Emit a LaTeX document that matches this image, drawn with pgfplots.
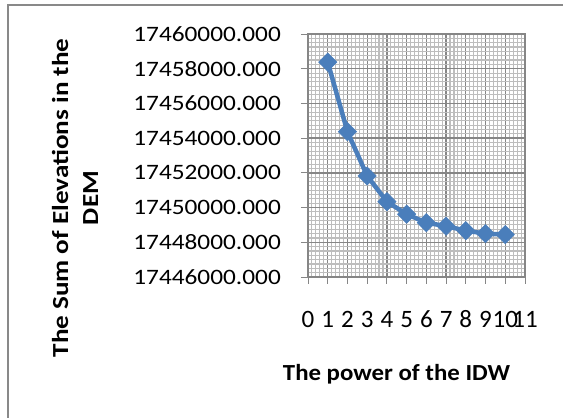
\documentclass[border=0pt]{standalone}
\usepackage{pgfplots}
\pgfplotsset{compat=1.18}
\usepackage{fontspec}
\setmainfont{Carlito}
\newfontfamily\ytf{Carlito}[FakeStretch=1.15]
\newfontfamily\xtf{Carlito}
\newfontfamily\xlf{Carlito}[FakeStretch=1.08]
\newfontfamily\ylf{Carlito}[FakeStretch=1.18]
\definecolor{series}{HTML}{4A7EBB}
\definecolor{majgrid}{HTML}{868686}
\definecolor{mingrid}{HTML}{BDBDBD}
\definecolor{framec}{HTML}{898989}
\begin{document}
\begin{tikzpicture}
\path[use as bounding box] (0,0) rectangle (563bp,-418bp);
\draw[framec, line width=1.5bp] (8bp,-440bp) -- (8bp,-5bp) -- (590bp,-5bp);
\begin{axis}[
  at={(308bp,-277bp)}, anchor=south west,
  scale only axis, width=217bp, height=243bp,
  xmin=0, xmax=11, ymin=17446000, ymax=17460000,
  scaled y ticks=false, scaled x ticks=false,
  xtick={0,1,2,3,4,5,6,7,8,9,10,11},
  ytick={17446000,17448000,17450000,17452000,17454000,17456000,17458000,17460000},
  yticklabels={17446000.000,17448000.000,17450000.000,17452000.000,17454000.000,17456000.000,17458000.000,17460000.000},
  xticklabels={0,1,2,3,4,5,6,7,8,9,10,11},
  minor x tick num=4, minor y tick num=7,
  grid=both,
  major grid style={majgrid, line width=1.3bp},
  minor grid style={mingrid, line width=1.1bp},
  axis line style={majgrid, line width=1.3bp},
  tick style={majgrid, line width=1bp},
  major tick length=7bp, minor tick length=0pt,
  tick align=outside,
  xtick pos=bottom, ytick pos=left,
  yticklabel style={font=\ytf\fontsize{22bp}{26bp}\selectfont, anchor=east, inner sep=0pt, xshift=-20bp},
  xticklabel style={font=\xtf\fontsize{25bp}{30bp}\selectfont, anchor=base, inner sep=0pt, yshift=-44bp},
  xlabel={The power of the IDW},
  ylabel={The Sum of Elevations in the\\DEM},
  xlabel style={font=\xlf\bfseries\fontsize{23bp}{28bp}\selectfont, at={(rel axis cs:0.408,-0.424)}, anchor=base, inner sep=0pt},
  ylabel style={font=\ylf\bfseries\fontsize{23bp}{30bp}\selectfont, at={(rel axis cs:-1.074,0.325)}, anchor=center, align=center, inner sep=0pt},
]
\addplot[series, line width=4.5bp, mark=square*, mark size=6.5bp, mark options={rotate=45, line width=0.5bp, fill=series, draw=series}]
coordinates {
(1,17458380) (2,17454370) (3,17451820) (4,17450340) (5,17449620)
(6,17449130) (7,17448930) (8,17448670) (9,17448500) (10,17448440)
};
\end{axis}
\end{tikzpicture}
\end{document}
